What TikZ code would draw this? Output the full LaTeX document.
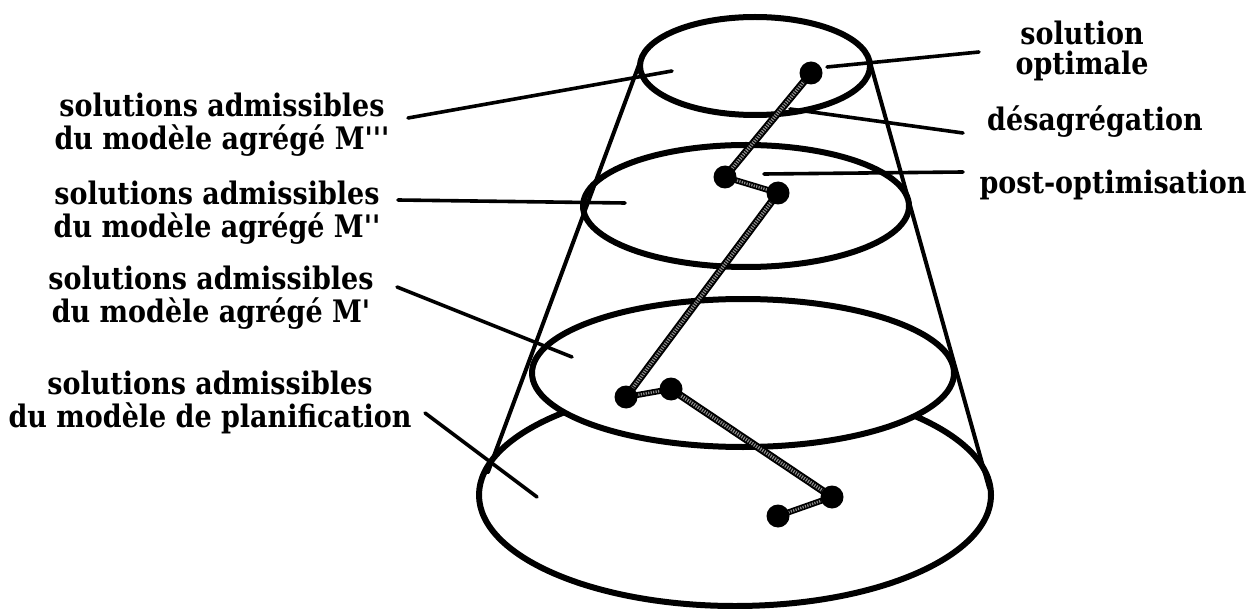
\documentclass[tikz,border=0pt]{standalone}
\usepackage{fontspec}
\newfontfamily\labfont{DejaVu Serif}[FakeStretch=0.87]
\begin{document}
\begin{tikzpicture}[x=1pt,y=-1pt,
  ell/.style={line width=6pt, black},
  cone/.style={line width=4pt, black, line cap=round},
  lead/.style={line width=3.6pt, black, line cap=round},
  rope/.style={line width=7.5pt, black, postaction={draw, black!45, line width=3.6pt, dash pattern=on 1.2pt off 1.3pt}},
  ropes/.style={line width=6pt, black, postaction={draw, black!45, line width=2.6pt, dash pattern=on 1.2pt off 1.3pt}},
  dot/.style={circle, fill=black, draw=none, minimum size=23pt, inner sep=0pt},
  lab/.style={font=\labfont\bfseries\fontsize{31}{33}\selectfont, align=center, inner sep=0pt},
]
\useasboundingbox (0,0) rectangle (1246,609);
% bottom ellipse
\draw[ell] (735,495) ellipse [x radius=256, y radius=111];
% third ellipse hides the back of the bottom one
\fill[white] (743,373) ellipse [x radius=211, y radius=74];
\draw[ell] (743,373) ellipse [x radius=211, y radius=74];
\draw[ell] (746,206) ellipse [x radius=163, y radius=61];
\draw[ell] (755,66) ellipse [x radius=115, y radius=49];
% cone sides
\coordinate (lt) at (640,62);
\coordinate (lb) at (488,472);
\coordinate (rt) at (870,62);
\coordinate (rb) at (989,488);
\draw[cone] (lt) -- (lb);
\draw[cone] (rt) -- (rb);
% path of solutions
\coordinate (p1) at (811,73);
\coordinate (p2) at (725,177);
\coordinate (p3) at (778,193);
\coordinate (p4) at (626,397);
\coordinate (p5) at (671,389);
\coordinate (p6) at (832,497);
\coordinate (p7) at (778,516);
\draw[rope] (p1) -- (p2);
\draw[ropes] (p2) -- (p3);
\draw[rope] (p3) -- (p4);
\draw[ropes] (p4) -- (p5);
\draw[rope] (p5) -- (p6);
\draw[ropes] (p6) -- (p7);
\node[dot] (d1) at (p1) {};
\node[dot] (d2) at (p2) {};
\node[dot] (d3) at (p3) {};
\node[dot] (d4) at (p4) {};
\node[dot] (d5) at (p5) {};
\node[dot] (d6) at (p6) {};
\node[dot] (d7) at (p7) {};
% left labels
\node[lab] (l1) at (222,125) {solutions admissibles\\du modèle agrégé M'''};
\node[lab] (l2) at (217,213) {solutions admissibles\\du modèle agrégé M''};
\node[lab] (l3) at (211,298) {solutions admissibles\\du modèle agrégé M'};
\node[lab] (l4) at (210,402) {solutions admissibles\\du modèle de planification};
% right labels
\node[lab, font=\labfont\bfseries\fontsize{31}{30}\selectfont] (r1) at (1082,51) {solution\\optimale};
\node[lab, anchor=base] (r2) at (1095,131) {désagrégation};
\node[lab, anchor=base] (r3) at (1113,194) {post-optimisation};
% leader end points
\coordinate (a1s) at (408,118); \coordinate (a1e) at (672,71);
\coordinate (a2s) at (398,200); \coordinate (a2e) at (625,203);
\coordinate (a3s) at (397,287); \coordinate (a3e) at (572,357);
\coordinate (a4s) at (425,413); \coordinate (a4e) at (537,497);
\coordinate (b1s) at (979,52);  \coordinate (b1e) at (827,67);
\coordinate (b2s) at (963,133); \coordinate (b2e) at (790,109);
\coordinate (b3s) at (963,172); \coordinate (b3e) at (764,174);
\draw[lead] (a1s) -- (a1e);
\draw[lead] (a2s) -- (a2e);
\draw[lead] (a3s) -- (a3e);
\draw[lead] (a4s) -- (a4e);
\draw[lead] (b1s) -- (b1e);
\draw[lead] (b2s) -- (b2e);
\draw[lead] (b3s) -- (b3e);
\end{tikzpicture}
\end{document}
